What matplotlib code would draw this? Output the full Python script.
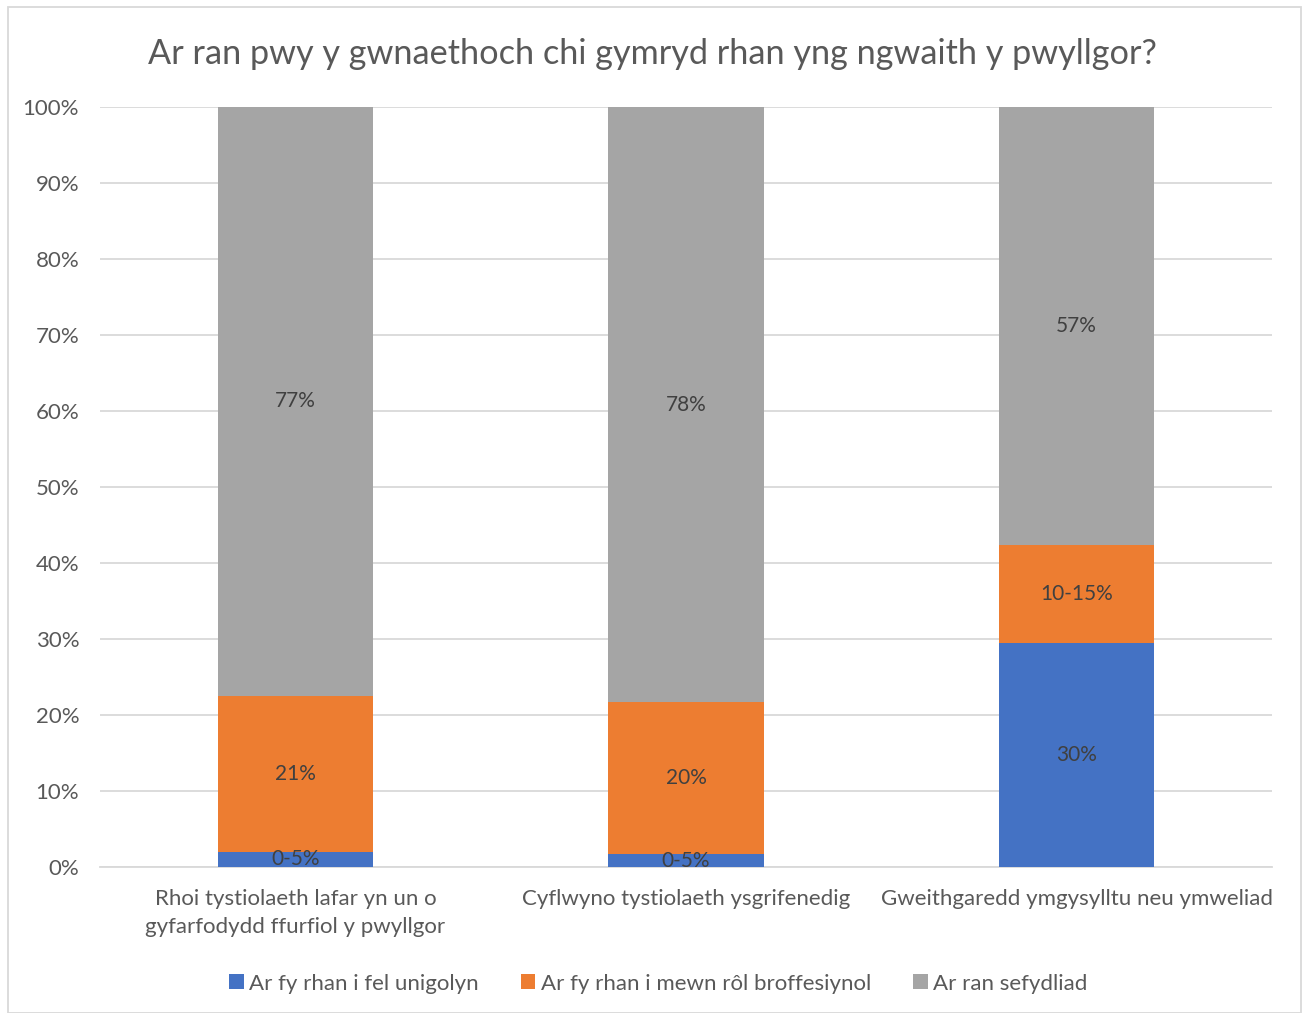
import numpy as np
import matplotlib.pyplot as plt
from matplotlib.patches import Rectangle

plt.rcParams['font.family'] = ['Lato', 'DejaVu Sans']

# Data (percent of respondents)
categories = ["Rhoi tystiolaeth lafar yn un o\ngyfarfodydd ffurfiol y pwyllgor",
              "Cyflwyno tystiolaeth ysgrifenedig",
              "Gweithgaredd ymgysylltu neu ymweliad"]
series_names = ["Ar fy rhan i fel unigolyn",
                "Ar fy rhan i mewn rôl broffesiynol",
                "Ar ran sefydliad"]
unigolyn = [2.0, 1.7, 29.5]
proffesiynol = [20.5, 20.0, 12.9]
sefydliad = [77.5, 78.3, 57.6]
label_unigolyn = ["0-5%", "0-5%", "30%"]
label_proffesiynol = ["21%", "20%", "10-15%"]
label_sefydliad = ["77%", "78%", "57%"]

colors = ["#4472C4", "#ED7D31", "#A5A5A5"]

fig = plt.figure(figsize=(13.04, 10.13), dpi=100)
ax = fig.add_axes([0.0767, 0.1441, 0.8988, 0.7503])

x = np.arange(len(categories))
w = 0.397
bottom = np.zeros(len(categories))
for vals, labs, col, name in zip([unigolyn, proffesiynol, sefydliad],
                                 [label_unigolyn, label_proffesiynol, label_sefydliad],
                                 colors, series_names):
    vals = np.array(vals)
    ax.bar(x, vals, w, bottom=bottom, color=col, label=name, zorder=3)
    for xi, b, v, lab in zip(x, bottom, vals, labs):
        ax.text(xi, b + v / 2, lab, ha='center', va='center', fontsize=15,
                color='#404040', zorder=4)
    bottom += vals

ax.set_xlim(-0.5, 2.5)
ax.set_ylim(0, 100)
ax.set_yticks(np.arange(0, 101, 10))
ax.set_yticklabels([f"{v}%" for v in range(0, 101, 10)])
ax.set_xticks(x)
ax.set_xticklabels(categories, fontsize=16, color='#595959', linespacing=1.5)
ax.tick_params(axis='y', labelsize=16, labelcolor='#595959', length=0, pad=15)
ax.tick_params(axis='x', length=0, pad=16)
ax.grid(axis='y', color='#d9d9d9', linewidth=1.3, zorder=0)
for s in ['top', 'right', 'left']:
    ax.spines[s].set_visible(False)
ax.spines['bottom'].set_color('#d9d9d9')
ax.spines['bottom'].set_linewidth(1.3)

fig.text(0.5, 0.947, "Ar ran pwy y gwnaethoch chi gymryd rhan yng ngwaith y pwyllgor?",
         ha='center', va='center', fontsize=24.7, color='#595959')

leg = fig.legend(loc='center', bbox_to_anchor=(0.505, 0.029), ncol=3, frameon=False,
                 fontsize=16, handlelength=0.65, handleheight=0.65, handletextpad=0.25,
                 columnspacing=1.9, labelcolor='#595959')

fig.patches.append(Rectangle((0.006, 0.0), 0.992, 0.993, transform=fig.transFigure,
                             fill=False, edgecolor='#d9d9d9', linewidth=1.3))

fig.savefig("out.png", dpi=100)
